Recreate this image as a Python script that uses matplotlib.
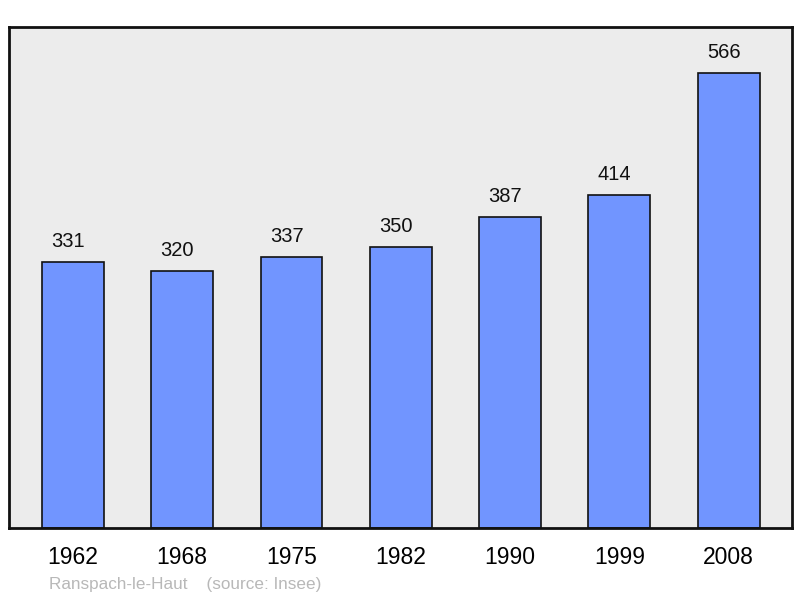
import matplotlib.pyplot as plt

years = ['1962', '1968', '1975', '1982', '1990', '1999', '2008']
population = [331, 320, 337, 350, 387, 414, 566]

plt.rcParams['font.family'] = ['Liberation Sans', 'DejaVu Sans']

fig = plt.figure(figsize=(8, 5.98), dpi=100)
ax = fig.add_axes([9 / 800, 70 / 598, 783 / 800, 501 / 598])
ax.set_facecolor('#ececec')

x = range(len(years))
ax.bar(x, population, width=0.567, color='#7195ff', edgecolor='#111111', linewidth=1.2, zorder=2)

# value labels sit a little left of the bar centre in the original
for xi, v in zip(x, population):
    ax.annotate(str(v), (xi, v), xytext=(-3.5, 14.5), textcoords='offset points',
                ha='center', va='center', fontsize=14.5, color='#111111')

ax.set_xlim(-0.585, len(years) - 1 + 0.58)
ax.set_ylim(0, 623)
ax.set_yticks([])
ax.set_xticks(list(x))
ax.set_xticklabels(years, fontsize=16.5)
ax.tick_params(axis='x', length=0, pad=13)
for s in ax.spines.values():
    s.set_linewidth(2)
    s.set_color('#111111')

fig.text(49 / 800, 1 - 584 / 598, 'Ranspach-le-Haut    (source: Insee)',
         fontsize=12.3, color='#b8b8b8', va='center', ha='left')

fig.savefig('out.png', dpi=100)
